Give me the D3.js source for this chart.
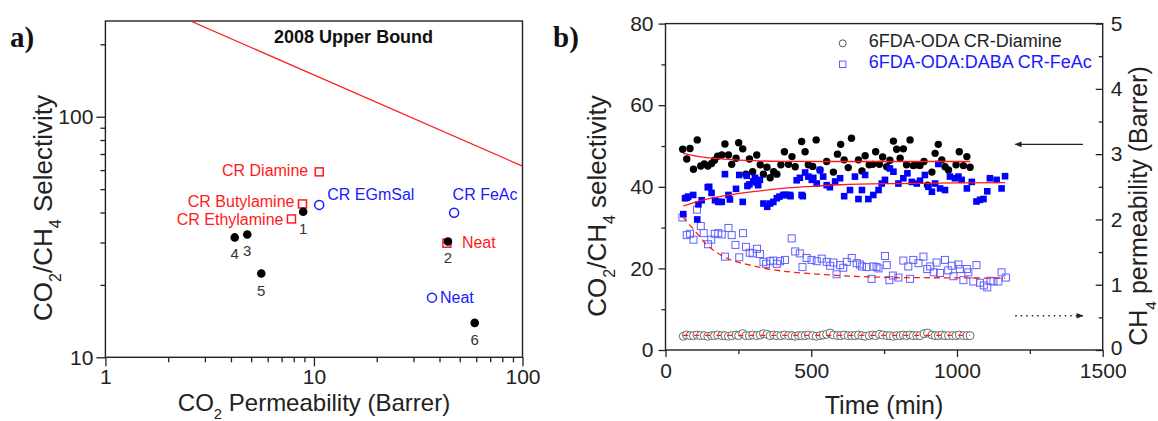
<!DOCTYPE html>
<html>
<head>
<meta charset="utf-8">
<script src="https://cdn.jsdelivr.net/npm/d3@7"></script>
<style>
	body { margin: 0; background: #fff; }
	text { font-family: Arial, 'Liberation Sans', sans-serif; }
</style>
</head>
<body>
<svg id="chart" width="1158" height="421"></svg>
<script>
	'use strict';

	// ---- panel a data : CO2 permeability (Barrer) vs CO2/CH4 selectivity
	var numberedNames = ['1', '2', '3', '4', '5', '6'];
	var numberedPerm = [8.88, 43.9, 4.79, 4.17, 5.59, 59.0];
	var numberedSel = [40.3, 30.3, 32.4, 31.5, 22.3, 13.9];

	var redNames = ['CR Diamine', 'CR Butylamine', 'CR Ethylamine', 'Neat'];
	var redPerm = [10.6, 8.81, 7.80, 43.4];
	var redSel = [59.0, 43.4, 37.6, 29.8];

	var blueNames = ['CR EGmSal', 'CR FeAc', 'Neat'];
	var bluePerm = [10.6, 47.0, 36.8];
	var blueSel = [43.0, 39.9, 17.7];

	// 2008 upper bound end points
	var boundPerm = [1, 100];
	var boundSel = [357, 62.3];

	var xTicksA = [1, 10, 100];
	var yTicksA = [10, 100];

	// ---- panel b data : time (min) vs selectivity / CH4 permeability
	var diamineSel = [[59,49.2],[73,46.8],[84,49.4],[96,44.3],[109,51.5],[121,45.1],[133,45.6],[145,45.1],[158,45.7],[168,46.5],[179,47.5],[193,47.8],[204,50.5],[216,47.8],[227,45.5],[242,47.0],[251,50.8],[265,49.3],[276,43.1],[288,46.8],[299,43.7],[313,47.8],[325,45.4],[336,43.1],[348,44.8],[359,42.2],[371,43.7],[382,43.1],[396,45.4],[408,48.6],[422,45.5],[434,47.4],[445,44.9],[467,51.1],[479,48.6],[490,45.4],[505,45.0],[517,51.5],[530,44.1],[553,46.2],[576,43.6],[590,48.0],[601,50.4],[613,46.6],[627,44.7],[638,51.9],[662,46.6],[674,43.9],[685,47.6],[699,45.4],[711,45.5],[721,48.6],[734,45.5],[745,47.3],[759,44.9],[770,46.5],[782,51.2],[793,49.2],[805,47.0],[816,49.3],[827,45.4],[839,51.5],[850,45.2],[862,45.4],[873,45.2],[887,46.2],[899,40.4],[914,43.6],[925,48.2],[936,50.4],[948,46.6],[959,44.9],[971,44.1],[997,45.4],[1008,48.6],[1022,45.2],[1034,47.4],[1045,44.8]];

	var feacSel = [[61,33.3],[67,37.2],[73,37.3],[78,37.6],[95,38.0],[109,32.0],[113,35.7],[124,36.7],[145,39.9],[150,40.0],[158,38.5],[170,36.7],[181,36.3],[193,36.3],[204,43.1],[216,38.0],[221,36.9],[242,39.5],[253,42.9],[265,36.3],[279,42.7],[281,40.2],[288,40.6],[301,41.3],[307,42.2],[313,41.0],[318,40.4],[324,41.7],[336,35.9],[349,35.1],[359,35.9],[370,36.3],[382,37.2],[391,37.6],[404,38.0],[410,38.0],[416,38.0],[427,38.0],[429,37.7],[450,41.6],[461,42.2],[467,38.0],[471,37.7],[479,43.5],[490,42.5],[502,41.7],[507,42.2],[519,40.8],[530,44.1],[541,42.5],[553,40.4],[564,39.9],[582,41.3],[599,42.1],[613,37.7],[633,39.2],[650,42.5],[662,37.0],[674,39.2],[685,42.9],[696,37.0],[713,38.0],[731,39.2],[742,40.8],[753,41.7],[770,44.5],[782,43.7],[799,40.8],[816,42.1],[830,43.3],[845,41.2],[862,40.8],[873,41.5],[890,42.9],[902,40.0],[914,38.8],[925,40.8],[936,45.6],[942,39.6],[959,39.2],[976,42.5],[993,42.1],[1005,42.5],[1016,41.7],[1034,39.6],[1051,41.2],[1067,36.4],[1079,36.8],[1091,37.0],[1104,38.9],[1113,42.1],[1136,41.7],[1153,39.6],[1165,42.6]];

	// CH4 permeability (Barrer), right axis
	var diamineCH4 = [[61,0.21],[72,0.23],[84,0.22],[96,0.22],[108,0.23],[120,0.22],[133,0.22],[145,0.21],[158,0.22],[168,0.22],[179,0.23],[193,0.22],[204,0.22],[216,0.21],[227,0.22],[242,0.23],[251,0.22],[265,0.25],[276,0.22],[288,0.22],[299,0.23],[313,0.22],[325,0.23],[336,0.25],[348,0.24],[359,0.22],[371,0.23],[382,0.22],[396,0.22],[408,0.23],[422,0.22],[434,0.22],[445,0.21],[456,0.22],[467,0.22],[479,0.22],[490,0.23],[505,0.22],[517,0.21],[530,0.22],[541,0.23],[553,0.24],[565,0.26],[576,0.23],[590,0.22],[601,0.22],[613,0.23],[627,0.22],[638,0.22],[650,0.22],[662,0.23],[674,0.22],[685,0.21],[699,0.22],[711,0.23],[721,0.22],[734,0.24],[745,0.23],[759,0.22],[770,0.22],[782,0.21],[793,0.22],[805,0.22],[816,0.23],[827,0.22],[839,0.23],[850,0.22],[862,0.22],[873,0.22],[887,0.25],[899,0.26],[914,0.23],[925,0.22],[936,0.22],[948,0.23],[959,0.22],[971,0.22],[985,0.22],[997,0.22],[1008,0.23],[1022,0.22],[1034,0.22],[1045,0.22]];

	var feacCH4 = [[58,2.03],[73,1.76],[84,1.78],[96,1.69],[108,2.15],[121,1.90],[131,1.79],[146,1.62],[157,1.69],[169,1.78],[181,1.79],[193,1.77],[204,1.43],[216,1.87],[227,1.76],[240,1.61],[253,1.42],[266,1.79],[276,1.58],[289,1.49],[299,1.48],[314,1.55],[324,1.47],[336,1.35],[345,1.32],[359,1.36],[370,1.37],[382,1.32],[393,1.36],[410,1.38],[433,1.71],[445,1.51],[461,1.48],[470,1.27],[484,1.41],[501,1.38],[519,1.36],[536,1.40],[553,1.35],[565,1.29],[576,1.34],[587,1.16],[599,1.30],[610,1.26],[622,1.35],[639,1.41],[656,1.33],[667,1.31],[674,1.28],[690,1.27],[707,1.09],[713,1.28],[724,1.27],[731,1.25],[753,1.44],[759,1.30],[768,1.07],[780,1.14],[799,1.11],[816,1.37],[833,1.28],[839,1.09],[850,1.38],[868,1.33],[885,1.43],[898,1.24],[908,1.28],[920,1.19],[930,1.34],[942,1.18],[959,1.38],[970,1.22],[982,1.29],[988,1.13],[1005,1.31],[1010,1.24],[1022,1.07],[1034,1.24],[1039,1.19],[1056,1.05],[1067,1.30],[1079,1.03],[1092,0.99],[1104,0.96],[1115,1.06],[1125,1.05],[1142,1.05],[1153,1.19],[1168,1.11]];

	// fitted trend lines
	var diamineSelFit = [[60,48.2],[100,47.6],[150,47.1],[200,46.8],[300,46.4],[400,46.25],[600,46.2],[1045,46.2]];
	var feacSelFit = [[61,35.3],[100,36.2],[150,37.1],[200,37.8],[300,38.8],[400,39.6],[500,40.1],[600,40.5],[800,40.8],[1000,40.95],[1165,41.0]];
	var feacCH4Fit = [[59,2.04],[80,1.93],[100,1.83],[140,1.62],[200,1.43],[300,1.29],[400,1.21],[500,1.17],[600,1.14],[800,1.11],[1000,1.105],[1165,1.10]];
	var diamineCH4Fit = [[61,0.225],[1045,0.225]];

	var legendLabels = ['6FDA-ODA CR-Diamine', '6FDA-ODA:DABA CR-FeAc'];
	var xTicksB = [0, 500, 1000, 1500];
	var yTicksB = [0, 20, 40, 60, 80];
	var y2TicksB = [0, 1, 2, 3, 4, 5];

	var RED = '#ff1a1a', BLUE = '#1a1aff', AXIS = '#222';
	var fmt = d3.format('d');
	var svg = d3.select('#chart');
	svg.append('rect').attr('width', 1158).attr('height', 421).attr('fill', '#fff');

	function styleAxis(g, fontSize) {
		g.select('.domain').remove();
		g.selectAll('line').attr('stroke', AXIS).attr('stroke-width', 1.3);
		g.selectAll('text').attr('fill', AXIS).style('font-size', fontSize + 'px')
			.style('font-family', 'Arial, "Liberation Sans", sans-serif');
	}

	function minorAxis(axis, g, values, size) {
		g.call(axis.tickValues(values).tickSize(size).tickFormat(''));
		styleAxis(g, 10);
	}

	function sub(text, main, subText, rest, size) {
		text.append('tspan').text(main);
		text.append('tspan').text(subText).attr('baseline-shift', 'sub').style('font-size', (size * 0.62) + 'px');
		text.append('tspan').text(rest);
	}

	// ================= panel a =================
	var xA = d3.scaleLog().domain([1, 100]).range([105.4, 522.5]);
	var yA = d3.scaleLog().domain([10, 250]).range([357.3, 21]);
	var ga = svg.append('g');

	ga.append('clipPath').attr('id', 'clipA').append('rect')
		.attr('x', 105.4).attr('y', 21).attr('width', 522.5 - 105.4).attr('height', 357.3 - 21);

	var xMinorA = [2,3,4,5,6,7,8,9,20,30,40,50,60,70,80,90];
	var yMinorA = [20,30,40,50,60,70,80,90,200];

	var gxa = ga.append('g').attr('transform', 'translate(0,357.3)');
	gxa.call(d3.axisBottom(xA).tickValues(xTicksA).tickFormat(fmt).tickSize(9).tickPadding(3));
	styleAxis(gxa, 21);
	minorAxis(d3.axisBottom(xA), ga.append('g').attr('transform', 'translate(0,357.3)'), xMinorA, 5);

	var gya = ga.append('g').attr('transform', 'translate(105.4,0)');
	gya.call(d3.axisLeft(yA).tickValues(yTicksA).tickFormat(fmt).tickSize(9).tickPadding(3));
	styleAxis(gya, 21);
	minorAxis(d3.axisLeft(yA), ga.append('g').attr('transform', 'translate(105.4,0)'), yMinorA, 5);

	ga.append('rect').attr('x', 105.4).attr('y', 21).attr('width', 522.5 - 105.4).attr('height', 357.3 - 21)
		.attr('fill', 'none').attr('stroke', AXIS).attr('stroke-width', 1.4);

	var boundLine = d3.line()
		.x(function (d) { return xA(d[0]); })
		.y(function (d) { return yA(d[1]); });
	ga.append('path')
		.datum(d3.zip(boundPerm, boundSel))
		.attr('clip-path', 'url(#clipA)')
		.attr('d', boundLine)
		.attr('fill', 'none').attr('stroke', RED).attr('stroke-width', 1.2);

	ga.append('text').attr('x', 353.6).attr('y', 43.3).attr('text-anchor', 'middle')
		.style('font-size', '18px').style('font-weight', 'bold').attr('fill', '#111')
		.text('2008 Upper Bound');

	// label offsets (px) relative to each marker
	var redLabelPos = [[-11, 4, 'end'], [-8, 3, 'end'], [-8, 6, 'end'], [15, 5, 'start']];
	var blueLabelPos = [[8, -5, 'start'], [-1.5, -13, 'start'], [8, 5, 'start']];

	ga.selectAll('rect.red').data(redNames).enter().append('rect')
		.attr('class', 'red')
		.attr('x', function (d, i) { return xA(redPerm[i]) - 4; })
		.attr('y', function (d, i) { return yA(redSel[i]) - 4; })
		.attr('width', 8).attr('height', 8)
		.attr('fill', 'none').attr('stroke', RED).attr('stroke-width', 1.5);

	ga.selectAll('circle.blk').data(numberedNames).enter().append('circle')
		.attr('class', 'blk')
		.attr('cx', function (d, i) { return xA(numberedPerm[i]); })
		.attr('cy', function (d, i) { return yA(numberedSel[i]); })
		.attr('r', 4.3).attr('fill', '#000');

	ga.selectAll('text.num').data(numberedNames).enter().append('text')
		.attr('class', 'num')
		.attr('x', function (d, i) { return xA(numberedPerm[i]); })
		.attr('y', function (d, i) { return yA(numberedSel[i]) + 22; })
		.attr('text-anchor', 'middle').style('font-size', '15px').attr('fill', '#333')
		.text(function (d) { return d; });

	ga.selectAll('circle.blue').data(blueNames).enter().append('circle')
		.attr('class', 'blue')
		.attr('cx', function (d, i) { return xA(bluePerm[i]); })
		.attr('cy', function (d, i) { return yA(blueSel[i]); })
		.attr('r', 4.5).attr('fill', 'none').attr('stroke', BLUE).attr('stroke-width', 1.5);

	ga.selectAll('text.redlab').data(redNames).enter().append('text')
		.attr('class', 'redlab')
		.attr('x', function (d, i) { return xA(redPerm[i]) + redLabelPos[i][0]; })
		.attr('y', function (d, i) { return yA(redSel[i]) + redLabelPos[i][1]; })
		.attr('text-anchor', function (d, i) { return redLabelPos[i][2]; })
		.style('font-size', '16px').attr('fill', RED)
		.text(function (d) { return d; });

	ga.selectAll('text.bluelab').data(blueNames).enter().append('text')
		.attr('class', 'bluelab')
		.attr('x', function (d, i) { return xA(bluePerm[i]) + blueLabelPos[i][0]; })
		.attr('y', function (d, i) { return yA(blueSel[i]) + blueLabelPos[i][1]; })
		.attr('text-anchor', function (d, i) { return blueLabelPos[i][2]; })
		.style('font-size', '16px').attr('fill', BLUE)
		.text(function (d) { return d; });

	var xtA = ga.append('text').attr('x', 314).attr('y', 411).attr('text-anchor', 'middle')
		.style('font-size', '24px').attr('fill', AXIS);
	sub(xtA, 'CO', '2', ' Permeability (Barrer)', 24);

	var ytA = ga.append('text').attr('transform', 'translate(52,208) rotate(-90)').attr('text-anchor', 'middle')
		.style('font-size', '26px').attr('fill', AXIS);
	ytA.append('tspan').text('CO');
	ytA.append('tspan').text('2').attr('baseline-shift', 'sub').style('font-size', '16px');
	ytA.append('tspan').text('/CH');
	ytA.append('tspan').text('4').attr('baseline-shift', 'sub').style('font-size', '16px');
	ytA.append('tspan').text(' Selectivity');

	ga.append('text').attr('x', 10).attr('y', 47).text('a)')
		.style('font-family', '"Times New Roman", "Liberation Serif", serif')
		.style('font-size', '29px').style('font-weight', 'bold').attr('fill', '#111');

	// ================= panel b =================
	var xB = d3.scaleLinear().domain([0, 1500]).range([665.5, 1102.7]);
	var yB = d3.scaleLinear().domain([0, 80]).range([350, 23.6]);
	var yB2 = d3.scaleLinear().domain([0, 5]).range([350, 23.6]);
	var gb = svg.append('g');

	var gxb = gb.append('g').attr('transform', 'translate(0,350)');
	gxb.call(d3.axisBottom(xB).tickValues(xTicksB).tickFormat(fmt).tickSize(7).tickPadding(6));
	styleAxis(gxb, 21);
	minorAxis(d3.axisBottom(xB), gb.append('g').attr('transform', 'translate(0,350)'), [250, 750, 1250], 4);

	var gyb = gb.append('g').attr('transform', 'translate(665.5,0)');
	gyb.call(d3.axisLeft(yB).tickValues(yTicksB).tickFormat(fmt).tickSize(7).tickPadding(5));
	styleAxis(gyb, 21);
	minorAxis(d3.axisLeft(yB), gb.append('g').attr('transform', 'translate(665.5,0)'), [10, 30, 50, 70], 4);

	var gy2b = gb.append('g').attr('transform', 'translate(1102.7,0)');
	gy2b.call(d3.axisRight(yB2).tickValues(y2TicksB).tickFormat(fmt).tickSize(-7).tickPadding(8));
	styleAxis(gy2b, 21);
	// lift the right-hand zero a little, as in the figure
	gy2b.selectAll('.tick text').filter(function (d) { return d === 0; }).attr('dy', '0.2em');
	minorAxis(d3.axisRight(yB2), gb.append('g').attr('transform', 'translate(1102.7,0)'), [0.5, 1.5, 2.5, 3.5, 4.5], -4);

	gb.append('rect').attr('x', 665.5).attr('y', 23.6).attr('width', 1102.7 - 665.5).attr('height', 350 - 23.6)
		.attr('fill', 'none').attr('stroke', AXIS).attr('stroke-width', 1.4);

	// CH4 permeability, CR-Diamine (open circles)
	gb.selectAll('circle.ch4').data(diamineCH4).enter().append('circle')
		.attr('class', 'ch4')
		.attr('cx', function (d) { return xB(d[0]); })
		.attr('cy', function (d) { return yB2(d[1]); })
		.attr('r', 4).attr('fill', '#fff').attr('stroke', '#6a6a6a').attr('stroke-width', 1);

	// CH4 permeability, CR-FeAc (open squares)
	gb.selectAll('rect.ch4').data(feacCH4).enter().append('rect')
		.attr('class', 'ch4')
		.attr('x', function (d) { return xB(d[0]) - 3.5; })
		.attr('y', function (d) { return yB2(d[1]) - 3.5; })
		.attr('width', 7).attr('height', 7)
		.attr('fill', 'none').attr('stroke', '#6060ff').attr('stroke-width', 1);

	gb.selectAll('circle.sel').data(diamineSel).enter().append('circle')
		.attr('class', 'sel')
		.attr('cx', function (d) { return xB(d[0]); })
		.attr('cy', function (d) { return yB(d[1]); })
		.attr('r', 3.7).attr('fill', '#000');

	gb.selectAll('rect.sel').data(feacSel).enter().append('rect')
		.attr('class', 'sel')
		.attr('x', function (d) { return xB(d[0]) - 3.3; })
		.attr('y', function (d) { return yB(d[1]) - 3.3; })
		.attr('width', 6.6).attr('height', 6.6).attr('fill', '#0000ff');

	var lineLeft = d3.line().curve(d3.curveMonotoneX)
		.x(function (d) { return xB(d[0]); })
		.y(function (d) { return yB(d[1]); });
	var lineRight = d3.line().curve(d3.curveMonotoneX)
		.x(function (d) { return xB(d[0]); })
		.y(function (d) { return yB2(d[1]); });

	gb.append('path').datum(diamineSelFit).attr('d', lineLeft)
		.attr('fill', 'none').attr('stroke', RED).attr('stroke-width', 1.3);
	gb.append('path').datum(feacSelFit).attr('d', lineLeft)
		.attr('fill', 'none').attr('stroke', RED).attr('stroke-width', 1.3);
	gb.append('path').datum(feacCH4Fit).attr('d', lineRight)
		.attr('fill', 'none').attr('stroke', RED).attr('stroke-width', 1.3).attr('stroke-dasharray', '6,4');
	gb.append('path').datum(diamineCH4Fit).attr('d', lineRight)
		.attr('fill', 'none').attr('stroke', RED).attr('stroke-width', 1.2).attr('stroke-dasharray', '5,6');

	// arrows pointing at the axis each data set belongs to
	var defs = svg.append('defs');
	defs.append('marker').attr('id', 'head').attr('viewBox', '0 0 10 10')
		.attr('refX', 9).attr('refY', 5).attr('markerWidth', 9).attr('markerHeight', 7)
		.attr('markerUnits', 'userSpaceOnUse').attr('orient', 'auto')
		.append('path').attr('d', 'M0,1 L10,5 L0,9 Z').attr('fill', AXIS);

	gb.append('line')
		.attr('x1', xB(1432)).attr('x2', xB(1200))
		.attr('y1', yB(50.4)).attr('y2', yB(50.4))
		.attr('stroke', AXIS).attr('stroke-width', 1.4).attr('marker-end', 'url(#head)');
	gb.append('line')
		.attr('x1', xB(1200)).attr('x2', xB(1432))
		.attr('y1', yB2(0.525)).attr('y2', yB2(0.525))
		.attr('stroke', AXIS).attr('stroke-width', 1.4).attr('stroke-dasharray', '1.5,4')
		.attr('marker-end', 'url(#head)');

	// legend
	var legend = gb.append('g').attr('transform', 'translate(842.7,43.3)');
	legend.append('circle').attr('cx', 0).attr('cy', 0).attr('r', 3.5)
		.attr('fill', 'none').attr('stroke', '#555').attr('stroke-width', 1);
	legend.append('rect').attr('x', -3.2).attr('y', 21 - 3.2).attr('width', 6.4).attr('height', 6.4)
		.attr('fill', 'none').attr('stroke', '#6060ff').attr('stroke-width', 1);
	legend.selectAll('text').data(legendLabels).enter().append('text')
		.attr('x', 26).attr('y', function (d, i) { return 4 + i * 21; })
		.style('font-size', '18px')
		.attr('fill', function (d, i) { return i === 0 ? '#222' : BLUE; })
		.text(function (d) { return d; });

	gb.append('text').attr('x', 884).attr('y', 414).attr('text-anchor', 'middle')
		.style('font-size', '25px').attr('fill', AXIS).text('Time (min)');

	var ytB = gb.append('text').attr('transform', 'translate(606,206) rotate(-90)').attr('text-anchor', 'middle')
		.style('font-size', '26px').attr('fill', AXIS);
	ytB.append('tspan').text('CO');
	ytB.append('tspan').text('2').attr('baseline-shift', 'sub').style('font-size', '16px');
	ytB.append('tspan').text('/CH');
	ytB.append('tspan').text('4').attr('baseline-shift', 'sub').style('font-size', '16px');
	ytB.append('tspan').text(' selectivity');

	var yt2B = gb.append('text').attr('transform', 'translate(1147,206) rotate(-90)').attr('text-anchor', 'middle')
		.style('font-size', '25px').attr('fill', AXIS);
	sub(yt2B, 'CH', '4', ' permeability (Barrer)', 25);

	gb.append('text').attr('x', 553).attr('y', 47).text('b)')
		.style('font-family', '"Times New Roman", "Liberation Serif", serif')
		.style('font-size', '29px').style('font-weight', 'bold').attr('fill', '#111');
</script>
</body>
</html>
